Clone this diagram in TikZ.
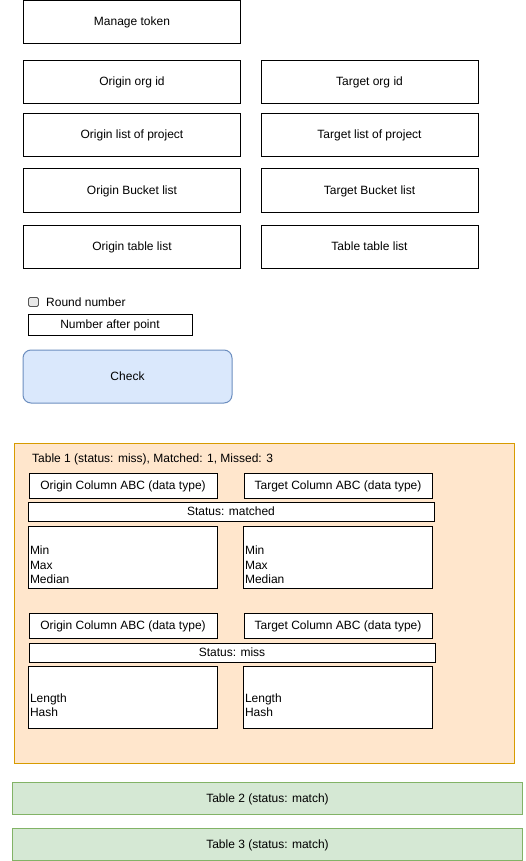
\documentclass[tikz,border=0pt]{standalone}
\usepackage{fontspec}
\setmainfont{Liberation Sans}
\definecolor{chkfill}{HTML}{DAE8FC}
\definecolor{chkdraw}{HTML}{6C8EBF}
\definecolor{orfill}{HTML}{FFE6CC}
\definecolor{ordraw}{HTML}{D79B00}
\definecolor{grfill}{HTML}{D5E8D4}
\definecolor{grdraw}{HTML}{82B366}
\definecolor{cbfill}{HTML}{E8E8E8}
\definecolor{cbdraw}{HTML}{555555}
\begin{document}
\begin{tikzpicture}[x=1pt,y=-1pt,
  lbl/.style={font=\fontsize{12}{14.5}\selectfont, inner sep=0pt},
  oneline/.style={lbl, text height=10pt, text depth=2pt},
  bx/.style={draw=black, line width=1pt, fill=white},
  field/.style={oneline, bx, minimum width=217pt, minimum height=43pt},
  colbox/.style={oneline, bx, minimum width=188pt, minimum height=25pt},
  statbox/.style={oneline, bx, minimum width=406pt, minimum height=19pt},
  statsbox/.style={lbl, bx, minimum width=189pt, minimum height=62pt, text width=185pt, align=left},
  greenbox/.style={oneline, draw=grdraw, fill=grfill, line width=1pt, minimum width=510pt, minimum height=32pt}
]
\useasboundingbox (0,0) rectangle (526,861);

% top fields
\node[field] (tok) at (132,22) {Manage token};
\node[field] (oorg) at (132,82) {Origin org id};
\node[field] (torg) at (369.5,82) {Target org id};
\node[field] (oproj) at (132,135) {Origin list of project};
\node[field] (tproj) at (369.5,135) {Target list of project};
\node[field] (obuck) at (132,190.5) {Origin Bucket list};
\node[field] (tbuck) at (369.5,190.5) {Target Bucket list};
\node[field] (otab) at (132,246.5) {Origin table list};
\node[field] (ttab) at (369.5,246.5) {Table table list};

% checkbox
\node[draw=cbdraw, fill=cbfill, line width=0.8pt, rounded corners=1.5pt, minimum width=10pt, minimum height=9pt, inner sep=0pt] (cb) at (33.5,302) {};
\node[oneline, anchor=west] (cbl) at (46,302) {Round number};
\node[oneline, bx, minimum width=164pt, minimum height=21pt] (nap) at (110,324.5) {Number after point};

% check button
\node[oneline, draw=chkdraw, fill=chkfill, line width=1pt, rounded corners=8pt, minimum width=209pt, minimum height=53pt] (check) at (127.5,376.5) {Check};

% table 1 container
\node[draw=ordraw, fill=orfill, line width=1pt, minimum width=500pt, minimum height=320pt, inner sep=0pt] (t1) at (264.25,603) {};
\node[oneline, anchor=west] (t1title) at (32,458) {Table 1 (status: miss), Matched: 1, Missed: 3};

% group 1
\node[colbox] (oc1) at (123,485.5) {Origin Column ABC (data type)};
\node[colbox] (tc1) at (338,485.5) {Target Column ABC (data type)};
\node[statbox] (st1) at (231,511.5) {Status: matched};
\node[statsbox] (os1) at (122.5,557) {\strut\\Min\\Max\\Median};
\node[statsbox] (ts1) at (337.5,557) {\strut\\Min\\Max\\Median};

% group 2
\node[colbox] (oc2) at (123,625.5) {Origin Column ABC (data type)};
\node[colbox] (tc2) at (338,625.5) {Target Column ABC (data type)};
\node[statbox] (st2) at (232,652.5) {Status: miss};
\node[statsbox] (os2) at (122.5,697) {\strut\\Length\\Hash};
\node[statsbox] (ts2) at (337.5,697) {\strut\\Length\\Hash};

% other tables
\node[greenbox] (t2) at (267.5,798) {Table 2 (status: match)};
\node[greenbox] (t3) at (267.5,844) {Table 3 (status: match)};
\end{tikzpicture}
\end{document}
